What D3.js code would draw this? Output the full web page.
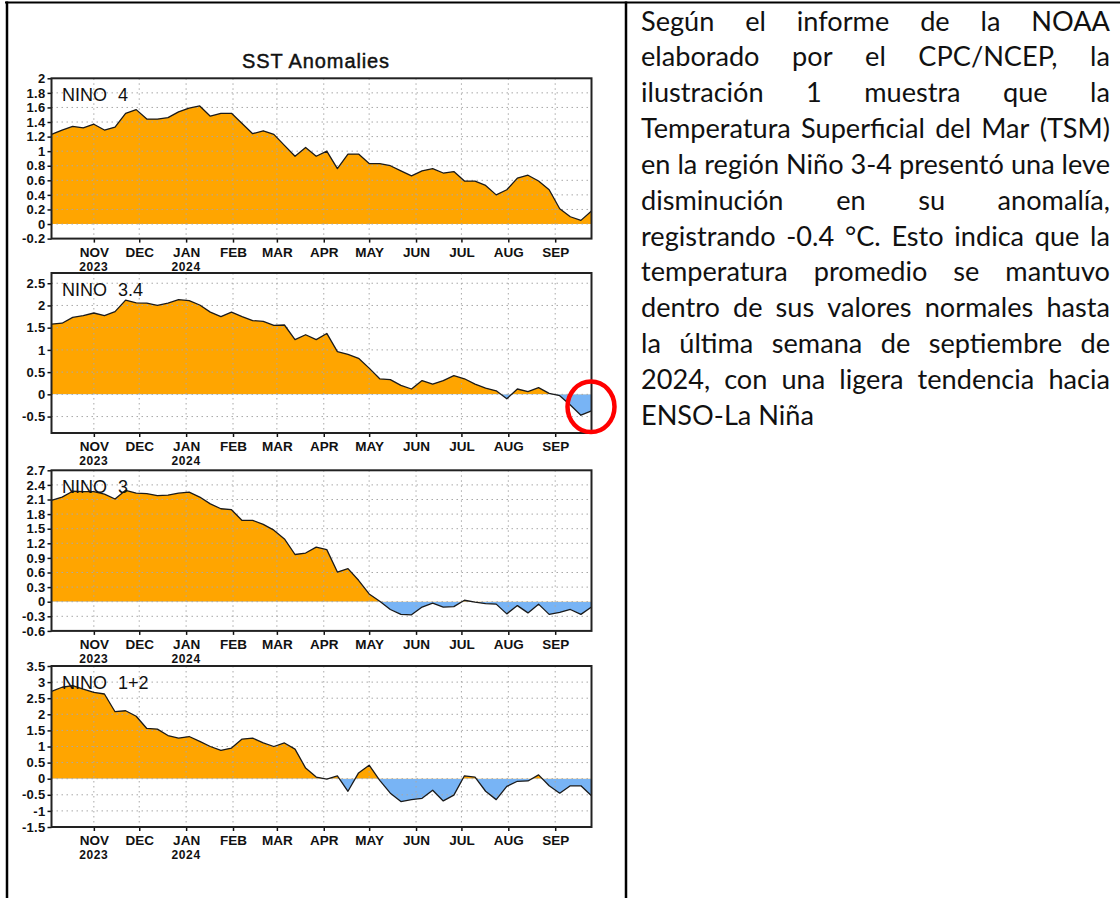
<!DOCTYPE html>
<html><head><meta charset="utf-8">
<script src="https://cdn.jsdelivr.net/npm/d3@7"></script>
<style>html,body{margin:0;padding:0;background:#fff;} svg{display:block}</style>
</head><body>
<svg id="c" width="1120" height="898"></svg>
<script>
// ---------------- DATA ----------------
const firstWeek = "2023-10-04";   // weekly values, one per week
const nino4  = [1.23,1.29,1.34,1.32,1.37,1.29,1.33,1.52,1.57,1.44,1.44,1.46,1.54,1.59,1.62,1.48,1.52,1.52,1.38,1.24,1.28,1.23,1.08,0.93,1.05,0.93,1.00,0.76,0.96,0.96,0.83,0.83,0.80,0.73,0.66,0.73,0.76,0.70,0.72,0.59,0.59,0.53,0.40,0.47,0.63,0.67,0.59,0.47,0.21,0.10,0.05,0.18];
const nino34 = [1.58,1.60,1.73,1.77,1.83,1.77,1.86,2.12,2.06,2.05,2.00,2.05,2.13,2.11,2.01,1.85,1.75,1.85,1.75,1.66,1.64,1.55,1.56,1.23,1.34,1.23,1.37,0.96,0.90,0.81,0.59,0.35,0.33,0.20,0.12,0.31,0.23,0.31,0.42,0.35,0.23,0.14,0.08,-0.10,0.12,0.06,0.15,0.02,-0.03,-0.24,-0.47,-0.37];
const nino3  = [2.08,2.15,2.27,2.26,2.26,2.21,2.11,2.29,2.23,2.22,2.18,2.19,2.23,2.25,2.15,2.01,1.91,1.89,1.67,1.67,1.59,1.47,1.29,0.97,1.00,1.12,1.07,0.61,0.68,0.44,0.16,0.01,-0.16,-0.26,-0.27,-0.11,-0.03,-0.11,-0.10,0.03,-0.01,-0.04,-0.05,-0.25,-0.08,-0.23,-0.05,-0.26,-0.22,-0.16,-0.26,-0.11];
const nino12 = [2.71,2.84,2.89,2.78,2.68,2.63,2.08,2.11,1.94,1.56,1.54,1.34,1.26,1.31,1.16,1.00,0.88,0.95,1.23,1.26,1.11,1.00,1.11,0.92,0.33,0.05,-0.01,0.09,-0.39,0.18,0.42,-0.05,-0.45,-0.71,-0.65,-0.61,-0.36,-0.69,-0.51,0.09,0.05,-0.39,-0.65,-0.24,-0.08,-0.07,0.12,-0.22,-0.45,-0.22,-0.22,-0.53];

const monthLabels = ["NOV","DEC","JAN","FEB","MAR","APR","MAY","JUN","JUL","AUG","SEP"];
const monthDates  = ["2023-11-01","2023-12-01","2024-01-01","2024-02-01","2024-03-01","2024-04-01","2024-05-01","2024-06-01","2024-07-01","2024-08-01","2024-09-01"];
const yearLabels  = ["2023","2024"];
const yearDates   = ["2023-11-01","2024-01-01"];

const ticks4  = [-0.2,0,0.2,0.4,0.6,0.8,1,1.2,1.4,1.6,1.8,2];
const ticks34 = [-0.5,0,0.5,1,1.5,2,2.5];
const ticks3  = [-0.6,-0.3,0,0.3,0.6,0.9,1.2,1.5,1.8,2.1,2.4,2.7];
const ticks12 = [-1.5,-1,-0.5,0,0.5,1,1.5,2,2.5,3,3.5];

const panelNames = ["NINO 4","NINO 3.4","NINO 3","NINO 1+2"];
const chartTitle = "SST Anomalies";
// red highlight circle on the last weeks of NINO 3.4 (panel index, value at centre)
const highlightPanel = 1, highlightValue = -0.28;

const paraLines = [
  "Según el informe de la NOAA",
  "elaborado por el CPC/NCEP, la",
  "ilustración 1 muestra que la",
  "Temperatura Superficial del Mar (TSM)",
  "en la región Niño 3-4 presentó una leve",
  "disminución en su anomalía,",
  "registrando -0.4 °C. Esto indica que la",
  "temperatura promedio se mantuvo",
  "dentro de sus valores normales hasta",
  "la última semana de septiembre de",
  "2024, con una ligera tendencia hacia",
  "ENSO-La Niña"
];

// ---------------- LAYOUT ----------------
const svg = d3.select("#c");
svg.append("rect").attr("width",1120).attr("height",898).attr("fill","#fff");

const parse = d3.utcParse("%Y-%m-%d");
const t0 = parse(firstWeek);
const dates = nino4.map((_, i) => d3.utcDay.offset(t0, 7 * i));

const PL = 51.5, PR = 591.5;
const x = d3.scaleUtc().domain([dates[0], dates[dates.length - 1]]).range([PL, PR]);

const panels = [
  {name: panelNames[0], values: nino4,  domain: [-0.2, 2],     ticks: ticks4,  top: 78.3,  bottom: 238.6},
  {name: panelNames[1], values: nino34, domain: [-0.87, 2.73], ticks: ticks34, top: 273,   bottom: 433},
  {name: panelNames[2], values: nino3,  domain: [-0.6, 2.7],   ticks: ticks3,  top: 470.3, bottom: 630.9},
  {name: panelNames[3], values: nino12, domain: [-1.5, 3.5],   ticks: ticks12, top: 666,   bottom: 827}
];

const fmt = v => String(+v.toFixed(2));
const ORANGE = "#FFA500", BLUE = "#78B4F5";
const yScales = [];

panels.forEach((p, k) => {
  const y = d3.scaleLinear().domain(p.domain).range([p.bottom, p.top]);
  yScales.push(y);
  const g = svg.append("g");
  const data = p.values.map((v, i) => ({d: dates[i], v}));
  const y0 = y(0);

  const defs = svg.append("defs");
  defs.append("clipPath").attr("id", "pos" + k).append("rect")
    .attr("x", PL).attr("y", p.top).attr("width", PR - PL).attr("height", y0 - p.top);
  defs.append("clipPath").attr("id", "neg" + k).append("rect")
    .attr("x", PL).attr("y", y0).attr("width", PR - PL).attr("height", p.bottom - y0);

  const area = d3.area().x(d => x(d.d)).y0(y0).y1(d => y(d.v));
  g.append("path").datum(data).attr("d", area).attr("fill", ORANGE).attr("clip-path", `url(#pos${k})`);
  g.append("path").datum(data).attr("d", area).attr("fill", BLUE).attr("clip-path", `url(#neg${k})`);

  // grid
  const grid = g.append("g").attr("stroke", "#a8a8a8").attr("stroke-width", 1).attr("stroke-dasharray", "1.5,3.5");
  p.ticks.filter(t => y(t) > p.top + 1 && y(t) < p.bottom - 1).forEach(t => {
    grid.append("line").attr("x1", PL).attr("x2", PR).attr("y1", y(t)).attr("y2", y(t));
  });
  monthDates.forEach(md => {
    const xx = x(parse(md));
    grid.append("line").attr("x1", xx).attr("x2", xx).attr("y1", p.top).attr("y2", p.bottom);
  });

  // line
  g.append("path").datum(data)
    .attr("d", d3.line().x(d => x(d.d)).y(d => y(d.v)))
    .attr("fill", "none").attr("stroke", "#1a1a1a").attr("stroke-width", 1.3).attr("stroke-linejoin", "round");

  // y axis
  const ya = g.append("g").attr("transform", `translate(${PL},0)`)
    .call(d3.axisLeft(y).tickValues(p.ticks).tickFormat(fmt).tickSize(4).tickPadding(2));
  ya.select(".domain").remove();
  ya.selectAll("line").attr("stroke", "#111").attr("stroke-width", 1.5);
  ya.selectAll("text").attr("font-family", "'Liberation Sans', Arial, sans-serif").attr("font-weight", "bold")
    .attr("font-size", 13).attr("fill", "#111").attr("letter-spacing", "0.3px");

  // x axis
  const xa = g.append("g").attr("transform", `translate(0,${p.bottom})`)
    .call(d3.axisBottom(x).tickValues(monthDates.map(parse)).tickFormat((d, i) => monthLabels[i]).tickSize(4).tickPadding(6));
  xa.select(".domain").remove();
  xa.selectAll("line").attr("stroke", "#111").attr("stroke-width", 1.5);
  xa.selectAll("text").attr("font-family", "'Liberation Sans Narrow', 'Arial Narrow', sans-serif").attr("font-weight", "bold")
    .attr("font-size", 13.5).attr("fill", "#111").attr("dy", null).attr("y", 18).attr("dominant-baseline", "alphabetic");
  yearDates.forEach((yd, i) => {
    g.append("text").attr("x", x(parse(yd))).attr("y", p.bottom + 32).attr("text-anchor", "middle")
      .attr("font-family", "'Liberation Sans', Arial, sans-serif").attr("font-weight", "bold")
      .attr("font-size", 12).attr("letter-spacing", "0.6px").attr("fill", "#111").text(yearLabels[i]);
  });

  // frame
  g.append("rect").attr("x", PL).attr("y", p.top).attr("width", PR - PL).attr("height", p.bottom - p.top)
    .attr("fill", "none").attr("stroke", "#222").attr("stroke-width", 2);

  // panel label
  g.append("text").attr("x", 62).attr("y", p.top + 23).attr("font-family", "'Liberation Sans', Arial, sans-serif")
    .attr("font-size", 18).attr("word-spacing", "6px").attr("fill", "#111").text(p.name);
});

// red highlight ellipse
svg.append("ellipse")
  .attr("cx", x(dates[dates.length - 1]) - 0.5)
  .attr("cy", yScales[highlightPanel](highlightValue))
  .attr("rx", 23.5).attr("ry", 25.3)
  .attr("fill", "none").attr("stroke", "#f00").attr("stroke-width", 4.5);

// title
svg.append("text").attr("x", 316).attr("y", 67.5).attr("text-anchor", "middle")
  .attr("font-family", "'Liberation Sans', Arial, sans-serif").attr("font-size", 20)
  .attr("letter-spacing", "0.9px").attr("fill", "#111").attr("stroke", "#111").attr("stroke-width", 0.45)
  .text(chartTitle);

// table borders
svg.append("line").attr("x1", 5).attr("x2", 1120).attr("y1", 2.5).attr("y2", 2.5).attr("stroke", "#000").attr("stroke-width", 2);
svg.append("line").attr("x1", 7).attr("x2", 7).attr("y1", 1.5).attr("y2", 898).attr("stroke", "#000").attr("stroke-width", 2.5);
svg.append("line").attr("x1", 626).attr("x2", 626).attr("y1", 1.5).attr("y2", 898).attr("stroke", "#000").attr("stroke-width", 2.5);

// paragraph, justified
const TL = 641, TR = 1110, base0 = 30.5, lh = 35.85;
const FONT = "Lato, 'Open Sans', sans-serif";
const pg = svg.append("g").attr("font-family", FONT).attr("fill", "#111");
const meas = pg.append("text").attr("font-size", 100);
const widthAt100 = s => { meas.text(s); return meas.node().getComputedTextLength(); };
let maxW = 0;
paraLines.slice(0, -1).forEach(l => { maxW = Math.max(maxW, widthAt100(l)); });
const fs = 100 * (TR - TL) / maxW;
paraLines.forEach((line, li) => {
  const yy = base0 + li * lh;
  const words = line.split(" ");
  if (li === paraLines.length - 1 || words.length === 1) {
    pg.append("text").attr("x", TL).attr("y", yy).attr("font-size", fs).text(line);
    return;
  }
  const ws = words.map(w => widthAt100(w) * fs / 100);
  const gap = (TR - TL - d3.sum(ws)) / (words.length - 1);
  let cx = TL;
  words.forEach((w, i) => {
    pg.append("text").attr("x", cx).attr("y", yy).attr("font-size", fs).text(w);
    cx += ws[i] + gap;
  });
});
meas.remove();
</script>
</body></html>
